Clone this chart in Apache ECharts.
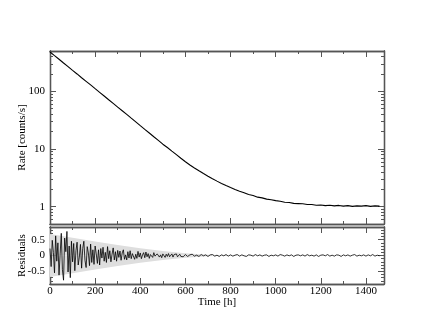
<!DOCTYPE html>
<html>
<head>
<meta charset="utf-8">
<script src="https://cdn.jsdelivr.net/npm/echarts@6/dist/echarts.min.js"></script>
<style>
html,body{margin:0;padding:0;background:#fff}
#chart{width:432px;height:334px}
</style>
</head>
<body>
<div id="chart"></div>
<script>
// count rate, one sample every 20 h
var rateTime = [0,20,40,60,80,100,120,140,160,180,200,220,240,260,280,300,320,340,360,380,
  400,420,440,460,480,500,520,540,560,580,600,620,640,660,680,700,720,740,760,780,
  800,820,840,860,880,900,920,940,960,980,1000,1020,1040,1060,1080,1100,1120,1140,1160,1180,
  1200,1220,1240,1260,1280,1300,1320,1340,1360,1380,1400,1420,1440,1460];
var rateValue = [481,415,359,310,268,231,200,172,149,129,111,96,83,71.5,61.8,53.3,46,39.7,34.2,29.5,
  25.4,21.9,18.9,16.3,14.1,12.1,10.6,9.2,8.0,6.9,6.0,5.27,4.69,4.19,3.75,3.37,3.05,2.77,2.53,2.32,
  2.14,1.98,1.85,1.74,1.62,1.56,1.46,1.42,1.35,1.32,1.27,1.24,1.19,1.18,1.14,1.13,1.12,1.09,1.09,1.06,
  1.07,1.04,1.06,1.03,1.05,1.02,1.04,1.01,1.03,1.02,1.04,1.01,1.03,1.02];

// fit residuals: every 5 h up to 600 h, every 10 h after
var resTime = [0,5,10,15,20,25,30,35,40,45,50,55,60,65,70,75,80,85,90,95,
  100,105,110,115,120,125,130,135,140,145,150,155,160,165,170,175,180,185,190,195,
  200,205,210,215,220,225,230,235,240,245,250,255,260,265,270,275,280,285,290,295,
  300,305,310,315,320,325,330,335,340,345,350,355,360,365,370,375,380,385,390,395,
  400,405,410,415,420,425,430,435,440,445,450,455,460,465,470,475,480,485,490,495,
  500,505,510,515,520,525,530,535,540,545,550,555,560,565,570,575,580,585,590,595,600,
  610,620,630,640,650,660,670,680,690,700,710,720,730,740,750,760,770,780,790,800,
  810,820,830,840,850,860,870,880,890,900,910,920,930,940,950,960,970,980,990,1000,
  1010,1020,1030,1040,1050,1060,1070,1080,1090,1100,1110,1120,1130,1140,1150,1160,1170,1180,1190,1200,
  1210,1220,1230,1240,1250,1260,1270,1280,1290,1300,1310,1320,1330,1340,1350,1360,1370,1380,1390,1400,
  1410,1420,1430,1440,1450,1460];
var resValue = [0.22,-0.35,0.48,0.10,-0.55,0.62,-0.18,0.40,-0.62,0.05,
  0.70,-0.45,-0.78,0.55,0.12,0.76,-0.52,0.30,-0.70,0.45,
  -0.20,0.38,-0.48,0.15,0.42,-0.30,-0.05,0.35,-0.40,0.22,
  0.45,-0.15,-0.38,0.28,0.08,-0.32,0.36,-0.22,0.18,-0.28,
  0.30,0.05,-0.25,0.18,-0.30,0.22,-0.08,0.26,-0.18,0.10,
  -0.22,0.28,-0.10,0.15,-0.20,0.04,0.24,-0.14,0.12,-0.18,
  0.16,-0.06,0.14,-0.15,0.08,0.18,-0.12,0.02,-0.14,0.12,
  -0.08,0.15,-0.10,0.06,0.12,-0.12,0.04,-0.09,0.13,-0.05,
  0.08,-0.10,0.02,0.09,-0.07,0.11,-0.04,0.06,-0.09,0.03,
  0.07,-0.06,0.09,-0.02,-0.08,0.05,0.08,-0.05,0.02,-0.07,
  0.05,0.02,-0.06,0.04,-0.03,0.06,-0.04,0.01,0.05,-0.05,
  0.03,-0.02,0.05,-0.04,0.02,0.04,-0.03,0.03,-0.04,0.02,0.03,
  -0.03,0.02,0.04,-0.02,0.01,-0.03,0.03,-0.01,0.02,-0.03,
  0.02,0.03,-0.02,0.01,-0.03,0.02,-0.01,0.03,-0.02,0.02,
  -0.02,0.01,0.03,-0.02,0.02,-0.01,-0.03,0.02,0.01,-0.02,
  0.03,-0.01,0.02,-0.02,0.01,0.02,-0.03,0.01,-0.01,0.02,
  -0.02,0.03,0.01,-0.02,0.02,-0.01,0.02,-0.03,0.01,0.02,
  -0.01,0.02,-0.02,0.03,-0.01,0.01,-0.02,0.02,-0.03,0.01,
  0.02,-0.01,0.03,-0.02,0.01,-0.02,0.02,0.01,-0.03,0.02,
  -0.01,0.02,-0.02,0.01,0.03,-0.02,0.01,-0.01,0.02,-0.02,
  0.02,-0.01,0.03,-0.02,0.01,-0.01];

// grey error band around zero (half width)
var bandTime = [0,100,200,300,400,500,600,700,800,1460];
var bandHalf = [0.68,0.56,0.44,0.33,0.23,0.14,0.07,0.02,0.01,0.01];

// ticks
var timeMajor = [0,200,400,600,800,1000,1200,1400];
var timeMinor = [100,300,500,700,900,1100,1300];
var rateMajor = [1,10,100];
var rateMinor = [0.6,0.7,0.8,0.9,2,3,4,5,6,7,8,9,20,30,40,50,60,70,80,90,200,300,400];
var resMajor = [-0.5,0,0.5];
var resMinor = [-0.9,-0.8,-0.7,-0.6,-0.4,-0.3,-0.2,-0.1,0.1,0.2,0.3,0.4,0.6,0.7,0.8,0.9];

var frame = '#555';
var font = "'Liberation Serif', 'DejaVu Serif', serif";
var plain = function(v){ return String(v); };

function lg(v){ return Math.log10(v); }

function xAx(grid, pos, ticks, len, labels){
  return {
    type: 'value', gridIndex: grid, position: pos, min: 0, max: 1480,
    axisLine: {show: true, onZero: false, lineStyle: {color: frame, width: 1.3}},
    axisTick: {show: true, inside: true, length: len, customValues: ticks, lineStyle: {color: frame, width: 1}},
    axisLabel: labels ? {show: true, customValues: labels, margin: 2, color: '#000', fontFamily: font, fontSize: 11, formatter: plain} : {show: false},
    splitLine: {show: false}
  };
}

function yAx(grid, pos, min, max, ticks, len, labels, fmt){
  return {
    type: 'value', gridIndex: grid, position: pos, min: min, max: max,
    axisLine: {show: true, onZero: false, lineStyle: {color: frame, width: 1.3}},
    axisTick: {show: true, inside: true, length: len, customValues: ticks, lineStyle: {color: frame, width: 1}},
    axisLabel: labels ? {show: true, customValues: labels, margin: 5, color: '#000', fontFamily: font, fontSize: 11, formatter: fmt} : {show: false},
    splitLine: {show: false}
  };
}

function nameIt(ax, text, gap){
  ax.name = text;
  ax.nameLocation = 'middle';
  ax.nameGap = gap;
  ax.nameMoveOverlap = false;
  ax.nameTextStyle = {color: '#000', fontFamily: font, fontSize: 11};
}

var logMin = lg(0.5), logMax = lg(500);
var rateMajorL = rateMajor.map(lg), rateMinorL = rateMinor.map(lg);
var rateFmt = function(v){ return String(Math.round(Math.pow(10, v))); };

var xAxes = [
  xAx(0, 'bottom', timeMajor, 6, null),
  xAx(0, 'bottom', timeMinor, 3, null),
  xAx(0, 'top', timeMajor, 6, null),
  xAx(0, 'top', timeMinor, 3, null),
  xAx(1, 'bottom', timeMajor, 6, timeMajor),
  xAx(1, 'bottom', timeMinor, 3, null),
  xAx(1, 'top', timeMajor, 6, null),
  xAx(1, 'top', timeMinor, 3, null)
];
nameIt(xAxes[4], 'Time [h]', 13);

var yAxes = [
  yAx(0, 'left', logMin, logMax, rateMajorL, 6, rateMajorL, rateFmt),
  yAx(0, 'left', logMin, logMax, rateMinorL, 3, null),
  yAx(0, 'right', logMin, logMax, rateMajorL, 6, null),
  yAx(0, 'right', logMin, logMax, rateMinorL, 3, null),
  yAx(1, 'left', -0.9, 0.9, resMajor, 6, resMajor, plain),
  yAx(1, 'left', -0.9, 0.9, resMinor, 3, null),
  yAx(1, 'right', -0.9, 0.9, resMajor, 6, null),
  yAx(1, 'right', -0.9, 0.9, resMinor, 3, null)
];
nameIt(yAxes[0], 'Rate [counts/s]', 22);
nameIt(yAxes[4], 'Residuals', 22);

var rateData = rateTime.map(function(t, i){ return [t, lg(rateValue[i])]; });
var resData = resTime.map(function(t, i){ return [t, resValue[i]]; });
var bandUp = bandTime.map(function(t, i){ return [t, bandHalf[i]]; });
var bandDown = bandTime.map(function(t, i){ return [t, -bandHalf[i]]; });

var chart = echarts.init(document.getElementById('chart'), null, {renderer: 'canvas'});
chart.setOption({
  animation: false,
  backgroundColor: '#fff',
  grid: [
    {left: 50, top: 51, width: 334, height: 173},
    {left: 50, top: 227, width: 334, height: 57}
  ],
  xAxis: xAxes,
  yAxis: yAxes,
  series: [
    {type: 'line', xAxisIndex: 4, yAxisIndex: 4, data: bandUp, symbol: 'none',
      lineStyle: {width: 0}, areaStyle: {color: '#dedede', opacity: 1}, silent: true},
    {type: 'line', xAxisIndex: 4, yAxisIndex: 4, data: bandDown, symbol: 'none',
      lineStyle: {width: 0}, areaStyle: {color: '#dedede', opacity: 1}, silent: true},
    {type: 'line', xAxisIndex: 4, yAxisIndex: 4, data: resData, symbol: 'none',
      lineStyle: {color: '#000', width: 0.8}},
    {type: 'line', xAxisIndex: 0, yAxisIndex: 0, data: rateData, symbol: 'none',
      lineStyle: {color: '#000', width: 1.1}}
  ]
});
</script>
</body>
</html>
